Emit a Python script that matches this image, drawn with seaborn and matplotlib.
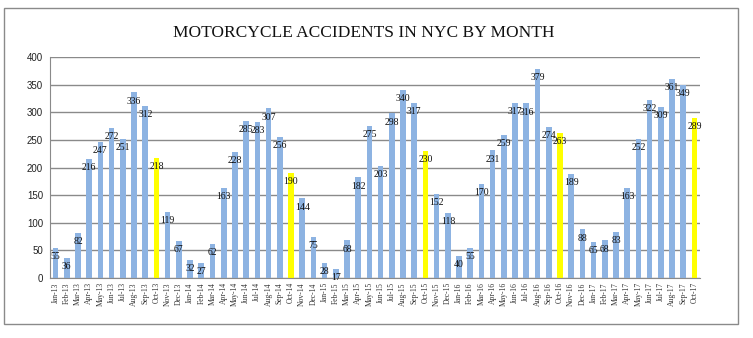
import matplotlib
matplotlib.use("Agg")
import matplotlib.pyplot as plt
import seaborn as sns
import pandas as pd
from matplotlib.patches import Rectangle
from matplotlib.ticker import FixedLocator, NullFormatter

months = ["Jan", "Feb", "Mar", "Apr", "May", "Jun", "Jul", "Aug", "Sep", "Oct", "Nov", "Dec"]
years = ["13", "14", "15", "16", "17"]
labels = [f"{m}-{y}" for y in years for m in months][:58]

accidents = [
    55, 36, 82, 216, 247, 272, 251, 336, 312, 218, 119, 67,
    32, 27, 62, 163, 228, 285, 283, 307, 256, 190, 144, 75,
    28, 17, 68, 182, 275, 203, 298, 340, 317, 230, 152, 118,
    40, 55, 170, 231, 259, 317, 316, 379, 274, 263, 189, 88,
    65, 68, 83, 163, 252, 322, 309, 361, 349, 289,
]

blue = "#8DB3E2"
yellow = "#FFFF00"
colors = [yellow if l.startswith("Oct") else blue for l in labels]

df = pd.DataFrame({"month": pd.Categorical(labels, categories=labels, ordered=True),
                   "count": accidents})

sns.set_style("white")
plt.rcParams["font.family"] = ["Liberation Serif", "DejaVu Serif"]

fig = plt.figure(figsize=(7.53, 3.38), dpi=100)
ax = fig.add_axes([50 / 753, 1 - 278 / 338, 650 / 753, 221 / 338])

sns.barplot(data=df, x="month", y="count", hue="month", palette=colors,
            legend=False, width=0.5, ax=ax, saturation=1, linewidth=0)

ax.set_ylim(0, 400)
ax.set_xlim(-0.5, len(labels) - 0.5)
ax.set_yticks(range(0, 401, 50))
ax.yaxis.grid(True, color="#8a8a8a", linewidth=1)
ax.set_axisbelow(True)
for s in ["top", "right"]:
    ax.spines[s].set_visible(False)
ax.spines["left"].set_color("#8a8a8a")
ax.spines["bottom"].set_color("#8a8a8a")

ax.set_xlabel("")
ax.set_ylabel("")
ax.set_xticks(range(len(labels)))
ax.set_xticklabels(labels, rotation=90, fontsize=5.5, color="#333333")
ax.tick_params(axis="x", which="major", length=0, pad=3)
ax.xaxis.set_minor_locator(FixedLocator([i - 0.5 for i in range(len(labels) + 1)]))
ax.xaxis.set_minor_formatter(NullFormatter())
ax.tick_params(axis="x", which="minor", length=3, color="#8a8a8a", direction="out")
ax.tick_params(axis="y", length=3, color="#8a8a8a", direction="out", pad=2)
for t in ax.get_yticklabels():
    t.set_fontfamily(["Liberation Sans", "DejaVu Sans"])
    t.set_fontsize(7)
    t.set_color("#222222")

for i, v in enumerate(accidents):
    ax.annotate(str(v), (i, v), xytext=(0, -3), textcoords="offset points",
                ha="center", va="top", fontsize=7, color="#111111")

fig.text(364 / 753, 1 - 33 / 338, "MOTORCYCLE ACCIDENTS IN NYC BY MONTH",
         ha="center", va="center", fontsize=12.5, color="#111111")

fig.patches.append(Rectangle((4 / 753, 1 - 324 / 338), 734 / 753, 316 / 338,
                             transform=fig.transFigure, fill=False,
                             edgecolor="#8a8a8a", linewidth=1))

fig.savefig("out.png", dpi=100)
